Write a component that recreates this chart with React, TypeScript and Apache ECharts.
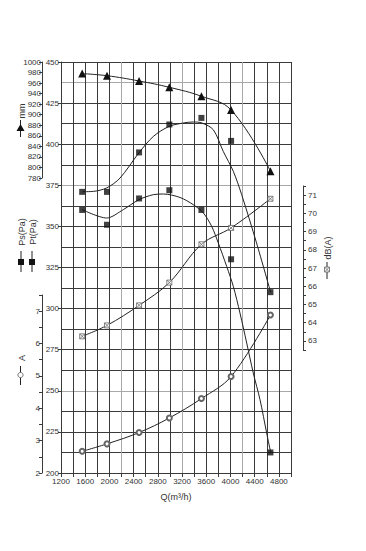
import React, { useEffect, useRef } from "react";
import * as echarts from "echarts";

// Flow rate (m³/h) of the measured points
const flowQ = [1550, 1960, 2490, 2990, 3520, 4010, 4660];
// Measured values
const mmValues = [978, 974, 964, 952, 935, 909, 793];
const ptValues = [371, 371, 395, 412, 416, 402, 310];
const psValues = [360, 351, 367, 372, 360, 330, 212.5];
const dbValues = [63.25, 63.85, 64.95, 66.2, 68.3, 69.2, 70.8];
const ampValues = [2.67, 2.9, 3.25, 3.7, 4.3, 4.98, 6.88];

// Fitted curves
const ptCurveQ = [1552, 1734, 1955, 2175, 2484, 2725, 2984, 3220, 3386, 3529, 3716, 3881, 4047, 4185, 4430, 4664];
const ptCurveV = [371.1, 371.3, 373.4, 379.4, 394.6, 404.7, 410.8, 412.9, 413.5, 412.9, 408.8, 395.6, 383.5, 369.3, 340, 309.9];
const psCurveQ = [1552, 1955, 2229, 2484, 2725, 2890, 3166, 3386, 3551, 3690, 3799, 3938, 4047, 4157, 4268, 4377, 4488, 4598, 4664];
const psCurveV = [360.2, 355.1, 360.2, 366.2, 369.3, 369.7, 367.6, 363.2, 358.2, 350, 339.9, 325.6, 313.5, 297.3, 279.1, 260.8, 244.6, 224.3, 212.5];

// Tick labels
const xTickLabels = [1200, 1600, 2000, 2400, 2800, 3200, 3600, 4000, 4400, 4800];
const xTitle = "Q(m³/h)";

const zip = (a: number[], b: number[]) => a.map((v, i) => [v, b[i]]);

const DARK = "#3a3a3a";
const GRAY = "#a8a8a8";
const TXT = "#333";
const FONT = "Liberation Sans";

const boxX = "path://M0 0H10V10H0Z M0 0L10 10 M10 0L0 10";

export default function App() {
  const ref = useRef<HTMLDivElement>(null);
  useEffect(() => {
    if (!ref.current) return;
    const chart = echarts.init(ref.current, null, { renderer: "svg" });
    const yGridColors: string[] = [];
    for (let i = 0; i <= 20; i++) {
      yGridColors.push(i === 4 || i === 14 || i === 19 ? GRAY : DARK);
    }
    const hiddenX = (gi: number) => ({
      gridIndex: gi,
      type: "value",
      min: 1200,
      max: 5000,
      show: false,
    });
    const axisCommon = {
      axisLine: { show: true, lineStyle: { color: DARK, width: 1 } },
      axisTick: { show: true, length: 3, lineStyle: { color: DARK, width: 1 } },
      splitLine: { show: false },
    };
    const plain = (v: number) => String(v);
    const intOnly = (v: number) => (Number.isInteger(v) ? String(v) : "");
    const option: any = {
      animation: false,
      textStyle: { fontFamily: FONT },
      grid: [
        { left: 61, top: 62, width: 230, height: 411 },
        { left: 61, top: 62, width: 230, height: 116 },
        { left: 61, top: 295, width: 230, height: 178 },
        { left: 61, top: 186, width: 230, height: 164 },
      ],
      xAxis: [
        {
          gridIndex: 0,
          type: "value",
          min: 1200,
          max: 5000,
          interval: 200,
          position: "bottom",
          axisLine: { show: true, lineStyle: { color: DARK, width: 1 } },
          axisTick: { show: true, length: 4, lineStyle: { color: DARK, width: 1 } },
          axisLabel: {
            fontSize: 8,
            color: TXT,
            margin: 4,
            formatter: (v: number) => (xTickLabels.includes(v) ? String(v) : ""),
          },
          splitLine: { show: true, lineStyle: { color: [GRAY, DARK, DARK, DARK, DARK], width: 1 } },
          name: xTitle,
          nameLocation: "middle",
          nameGap: 19,
          nameTextStyle: { fontSize: 9, color: TXT, fontFamily: FONT },
        },
        hiddenX(1),
        hiddenX(2),
        hiddenX(3),
      ],
      yAxis: [
        {
          gridIndex: 0,
          type: "value",
          min: 200,
          max: 450,
          interval: 25,
          position: "left",
          ...axisCommon,
          axisLabel: { fontSize: 8, color: TXT, margin: 2, formatter: plain },
        },
        {
          gridIndex: 0,
          type: "value",
          min: 200,
          max: 450,
          interval: 12.5,
          position: "left",
          axisLine: { show: false },
          axisTick: { show: false },
          axisLabel: { show: false },
          splitLine: { show: true, lineStyle: { color: yGridColors, width: 1 } },
        },
        {
          gridIndex: 1,
          type: "value",
          min: 780,
          max: 1000,
          interval: 20,
          position: "left",
          offset: 19,
          ...axisCommon,
          axisLabel: { fontSize: 8, color: TXT, margin: 1, formatter: plain },
        },
        {
          gridIndex: 2,
          type: "value",
          min: 2,
          max: 7.5,
          interval: 0.5,
          position: "left",
          offset: 19,
          ...axisCommon,
          axisLabel: { fontSize: 8, color: TXT, margin: 2, formatter: intOnly },
        },
        {
          gridIndex: 3,
          type: "value",
          min: 62.5,
          max: 71.5,
          interval: 0.5,
          position: "right",
          offset: 12,
          ...axisCommon,
          axisLabel: { fontSize: 8, color: TXT, margin: 5, formatter: intOnly },
        },
      ],
      series: [
        {
          name: "mm",
          type: "line",
          xAxisIndex: 1,
          yAxisIndex: 2,
          data: zip(flowQ, mmValues),
          smooth: 0.4,
          symbol: "triangle",
          symbolSize: 8,
          itemStyle: { color: "#111" },
          lineStyle: { color: "#222", width: 1 },
          z: 5,
        },
        {
          name: "Pt curve",
          type: "line",
          xAxisIndex: 0,
          yAxisIndex: 0,
          data: zip(ptCurveQ, ptCurveV),
          smooth: 0.3,
          showSymbol: false,
          lineStyle: { color: "#222", width: 1 },
          z: 5,
        },
        {
          name: "Pt(Pa)",
          type: "scatter",
          xAxisIndex: 0,
          yAxisIndex: 0,
          data: zip(flowQ, ptValues),
          symbol: "rect",
          symbolSize: 6,
          itemStyle: { color: "#111" },
          z: 6,
        },
        {
          name: "Ps curve",
          type: "line",
          xAxisIndex: 0,
          yAxisIndex: 0,
          data: zip(psCurveQ, psCurveV),
          smooth: 0.3,
          showSymbol: false,
          lineStyle: { color: "#222", width: 1 },
          z: 5,
        },
        {
          name: "Ps(Pa)",
          type: "scatter",
          xAxisIndex: 0,
          yAxisIndex: 0,
          data: zip(flowQ, psValues),
          symbol: "rect",
          symbolSize: 6,
          itemStyle: { color: "#111" },
          z: 6,
        },
        {
          name: "dB(A)",
          type: "line",
          xAxisIndex: 3,
          yAxisIndex: 4,
          data: zip(flowQ, dbValues),
          smooth: 0.35,
          symbol: boxX,
          symbolSize: 5,
          itemStyle: { color: "#fff", borderColor: "#666", borderWidth: 0.8 },
          lineStyle: { color: "#222", width: 1 },
          z: 5,
        },
        {
          name: "A",
          type: "line",
          xAxisIndex: 2,
          yAxisIndex: 3,
          data: zip(flowQ, ampValues),
          smooth: 0.35,
          symbol: "emptyCircle",
          symbolSize: 5,
          itemStyle: { color: "#666", borderWidth: 0.8 },
          lineStyle: { color: "#222", width: 1 },
          z: 5,
        },
      ],
      graphic: [
        // mm legend
        { type: "line", shape: { x1: 20.5, y1: 120, x2: 20.5, y2: 137 }, style: { stroke: "#222", lineWidth: 1 } },
        { type: "polygon", shape: { points: [[20.5, 124], [24.5, 131], [16.5, 131]] }, style: { fill: "#111" } },
        { type: "text", x: 21.5, y: 111, rotation: Math.PI / 2, style: { text: "mm", fontSize: 9, fontFamily: FONT, fill: TXT, align: "center", verticalAlign: "middle" } },
        // Ps legend
        { type: "line", shape: { x1: 21, y1: 251, x2: 21, y2: 272 }, style: { stroke: "#222", lineWidth: 1 } },
        { type: "rect", shape: { x: 18, y: 259, width: 6, height: 6 }, style: { fill: "#111" } },
        { type: "text", x: 21.5, y: 232, rotation: Math.PI / 2, style: { text: "Ps(Pa)", fontSize: 9, fontFamily: FONT, fill: TXT, align: "center", verticalAlign: "middle" } },
        // Pt legend
        { type: "line", shape: { x1: 32, y1: 251, x2: 32, y2: 272 }, style: { stroke: "#222", lineWidth: 1 } },
        { type: "rect", shape: { x: 29, y: 259, width: 6, height: 6 }, style: { fill: "#111" } },
        { type: "text", x: 32.5, y: 232, rotation: Math.PI / 2, style: { text: "Pt(Pa)", fontSize: 9, fontFamily: FONT, fill: TXT, align: "center", verticalAlign: "middle" } },
        // A legend
        { type: "line", shape: { x1: 20.5, y1: 366, x2: 20.5, y2: 385 }, style: { stroke: "#222", lineWidth: 1 } },
        { type: "circle", shape: { cx: 20.5, cy: 375, r: 2.6 }, style: { fill: "#fff", stroke: "#555", lineWidth: 0.8 } },
        { type: "text", x: 21.5, y: 358, rotation: Math.PI / 2, style: { text: "A", fontSize: 9, fontFamily: FONT, fill: TXT, align: "center", verticalAlign: "middle" } },
        // dB legend
        { type: "line", shape: { x1: 327, y1: 262, x2: 327, y2: 279 }, style: { stroke: "#222", lineWidth: 1 } },
        { type: "rect", shape: { x: 324.5, y: 267, width: 5, height: 5 }, style: { fill: "#fff", stroke: "#666", lineWidth: 0.8 } },
        { type: "line", shape: { x1: 324.5, y1: 267, x2: 329.5, y2: 272 }, style: { stroke: "#666", lineWidth: 0.8 } },
        { type: "line", shape: { x1: 329.5, y1: 267, x2: 324.5, y2: 272 }, style: { stroke: "#666", lineWidth: 0.8 } },
        { type: "text", x: 327.5, y: 248, rotation: Math.PI / 2, style: { text: "dB(A)", fontSize: 9, fontFamily: FONT, fill: TXT, align: "center", verticalAlign: "middle" } },
      ],
    };
    chart.setOption(option);
    return () => chart.dispose();
  }, []);
  return (
    <div
      ref={ref}
      style={{ position: "fixed", left: 0, top: 0, width: 366, height: 551, background: "#fff" }}
    />
  );
}
